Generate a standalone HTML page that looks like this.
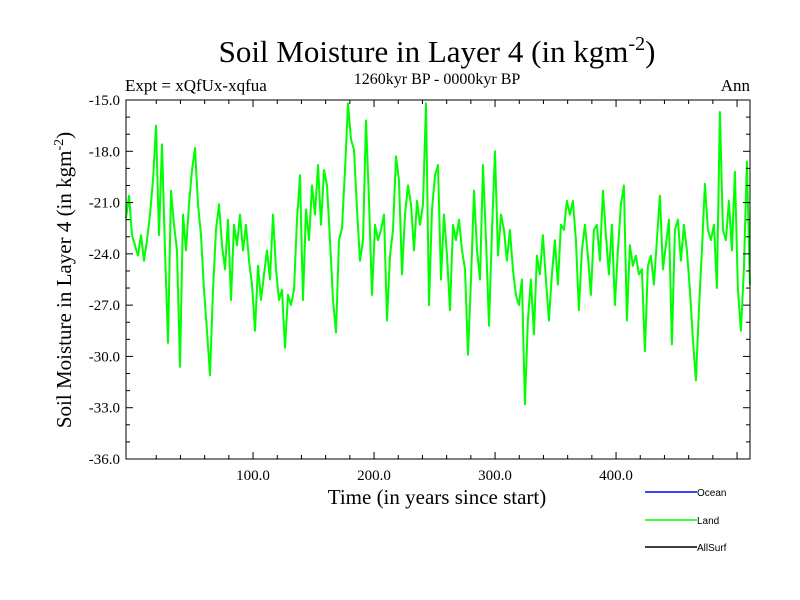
<!DOCTYPE html>
<html><head><meta charset="utf-8"><style>
body{margin:0;background:#fff;}
svg{display:block;}
.serif{font-family:"Liberation Serif",serif;}
.sans{font-family:"Liberation Sans",sans-serif;}
</style></head><body>
<svg id="chart" width="800" height="600" xmlns="http://www.w3.org/2000/svg">
<rect width="800" height="600" fill="#fff"/>
<text class="serif" x="437" y="62" font-size="31" text-anchor="middle">Soil Moisture in Layer 4 (in kgm<tspan dy="-12" font-size="20">-2</tspan><tspan dy="12">)</tspan></text>
<text class="serif" x="437" y="84" font-size="16" text-anchor="middle">1260kyr BP - 0000kyr BP</text>
<text class="serif" x="125" y="91" font-size="17">Expt = xQfUx-xqfua</text>
<text class="serif" x="750" y="91" font-size="17" text-anchor="end">Ann</text>
<g id="plot"></g>
<text class="serif" x="437" y="504" font-size="21" text-anchor="middle">Time (in years since start)</text>
<text class="serif" transform="translate(71,280) rotate(-90)" font-size="21" text-anchor="middle">Soil Moisture in Layer 4 (in kgm<tspan dy="-8" font-size="14">-2</tspan><tspan dy="8">)</tspan></text>
<g>
<line x1="645" y1="492" x2="697" y2="492" stroke="#0000ff" stroke-width="1.5"/>
<text class="sans" x="697" y="496" font-size="10">Ocean</text>
<line x1="645" y1="520" x2="697" y2="520" stroke="#00ff00" stroke-width="1.5"/>
<text class="sans" x="697" y="524" font-size="10">Land</text>
<line x1="645" y1="547" x2="697" y2="547" stroke="#000" stroke-width="1.5"/>
<text class="sans" x="697" y="551" font-size="10">AllSurf</text>
</g>
</svg>
<script>
const startYear = -5;
const stepYears = 2.479;
const landValues = [-21.9,-20.6,-22.9,-23.5,-24.1,-22.9,-24.4,-23.2,-21.7,-19.7,-16.5,-22.9,-17.6,-23.8,-29.2,-20.3,-22.3,-23.8,-30.6,-21.7,-23.8,-21.1,-19.1,-17.8,-21.1,-22.9,-26.1,-28.5,-31.1,-26.1,-22.6,-21.1,-23.5,-24.9,-22.0,-26.7,-22.3,-23.5,-21.7,-23.8,-22.3,-24.4,-25.8,-28.5,-24.7,-26.7,-25.2,-23.8,-25.5,-21.7,-24.9,-26.7,-26.1,-29.5,-26.4,-27.0,-26.1,-22.0,-19.4,-26.7,-21.4,-23.2,-20.0,-21.7,-18.8,-22.3,-19.1,-20.0,-23.2,-26.7,-28.6,-23.2,-22.5,-19.1,-15.2,-17.3,-17.9,-21.4,-24.4,-23.2,-16.2,-20.9,-26.4,-22.3,-23.2,-22.6,-21.7,-27.9,-24.1,-22.6,-18.3,-19.7,-25.2,-21.7,-20.0,-21.1,-23.8,-20.9,-22.3,-21.1,-15.2,-27.0,-21.4,-19.4,-18.8,-25.5,-21.7,-24.1,-27.3,-22.3,-23.2,-22.0,-23.8,-24.9,-29.9,-25.5,-20.3,-23.8,-25.5,-18.8,-23.2,-28.2,-22.6,-18.0,-24.1,-21.7,-22.6,-24.4,-22.6,-24.9,-26.4,-27.0,-25.5,-32.8,-27.9,-25.5,-28.7,-24.1,-25.2,-22.9,-25.5,-27.9,-25.2,-23.2,-25.8,-22.3,-22.6,-20.9,-21.7,-20.9,-23.2,-27.3,-23.8,-22.3,-24.1,-26.4,-22.6,-22.3,-24.4,-20.3,-22.9,-25.2,-22.3,-27.0,-23.8,-21.1,-20.0,-27.9,-23.5,-24.7,-24.1,-25.2,-24.9,-29.7,-24.7,-24.1,-25.8,-23.2,-20.6,-24.9,-23.5,-22.0,-29.3,-22.6,-22.0,-24.4,-22.3,-23.8,-26.1,-29.0,-31.4,-27.3,-23.8,-19.9,-22.6,-23.2,-22.3,-26.0,-15.7,-22.6,-23.2,-20.9,-23.8,-19.2,-26.1,-28.5,-24.9,-18.6,-25.8];
const yTickValues = [-15,-18,-21,-24,-27,-30,-33,-36];
const yTickLabels = ["-15.0","-18.0","-21.0","-24.0","-27.0","-30.0","-33.0","-36.0"];
const xTickValues = [100,200,300,400];
const xTickLabels = ["100.0","200.0","300.0","400.0"];

const NS = "http://www.w3.org/2000/svg";
const L = 126, R = 750, T = 100, B = 459;
const xMin = -5, xMax = 510.7, yMin = -36, yMax = -15;
function xs(v){ return L + (v - xMin) / (xMax - xMin) * (R - L); }
function ys(v){ return B - (v - yMin) / (yMax - yMin) * (B - T); }
const g = document.getElementById('plot');
function mk(tag, attrs){ const e = document.createElementNS(NS, tag); for (const k in attrs) e.setAttribute(k, attrs[k]); g.appendChild(e); return e; }

let d = '';
landValues.forEach((v, i) => { const yr = startYear + i * stepYears; d += (i ? 'L' : 'M') + xs(yr).toFixed(1) + ',' + ys(v).toFixed(1); });
const line = mk('path', {d: d, fill: 'none', stroke: '#00ff00', 'stroke-width': 2, 'stroke-linejoin': 'round'});



const frame = mk('rect', {x: L, y: T, width: R - L, height: B - T, fill: 'none', stroke: '#000', 'stroke-width': 1});



for (let v = yMin; v <= yMax + 0.001; v += 1) {
  const major = Math.abs((v - yMin) % 3) < 0.01;
  const len = major ? 7 : 4;
  const y = ys(v);
  const t1 = mk('line', {x1: L, y1: y, x2: L + len, y2: y, stroke: '#000'});
  
  
  const t2 = mk('line', {x1: R, y1: y, x2: R - len, y2: y, stroke: '#000'});
  
  
}
yTickValues.forEach((v, i) => {
  const t = mk('text', {x: L - 6, y: ys(v) + 5, 'font-size': 15, 'text-anchor': 'end', 'font-family': 'Liberation Serif, serif'});
  t.textContent = yTickLabels[i];
  
  
});
for (let v = 20; v < xMax; v += 20) {
  const major = v % 100 === 0;
  const len = major ? 7 : 4;
  const x = xs(v);
  const t1 = mk('line', {x1: x, y1: B, x2: x, y2: B - len, stroke: '#000'});
  
  
  const t2 = mk('line', {x1: x, y1: T, x2: x, y2: T + len, stroke: '#000'});
  
  
}
xTickValues.forEach((v, i) => {
  const t = mk('text', {x: xs(v), y: B + 21, 'font-size': 15, 'text-anchor': 'middle', 'font-family': 'Liberation Serif, serif'});
  t.textContent = xTickLabels[i];
  
  
});
</script>
</body></html>
